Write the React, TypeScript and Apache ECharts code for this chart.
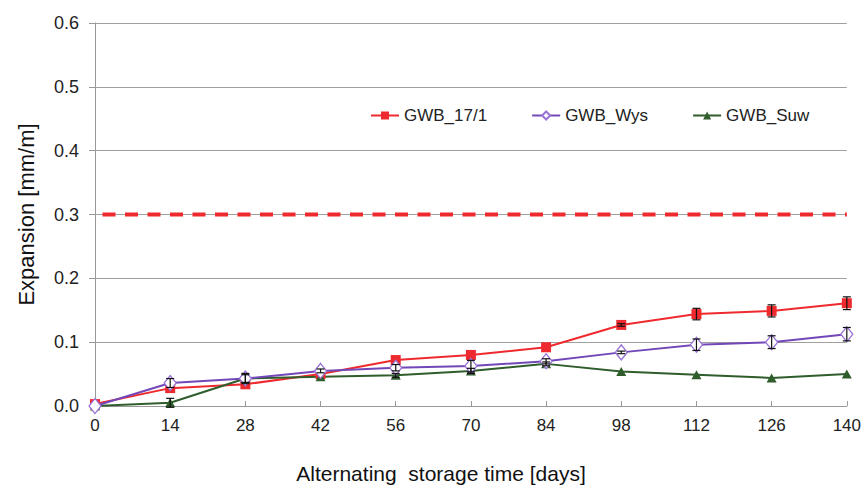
import React, { useEffect, useRef } from "react";
import * as echarts from "echarts";

const days = [0, 14, 28, 42, 56, 70, 84, 98, 112, 126, 140];
const gwb171 = [0.003, 0.028, 0.034, 0.05, 0.072, 0.08, 0.092, 0.127, 0.144, 0.149, 0.161];
const gwbWys = [0.0, 0.036, 0.043, 0.055, 0.06, 0.0625, 0.07, 0.084, 0.096, 0.1, 0.1125];
const gwbSuw = [0.0, 0.005, 0.043, 0.046, 0.048, 0.055, 0.066, 0.054, 0.049, 0.044, 0.05];
const err171 = [0, 0, 0, 0, 0, 0, 0, 0.002, 0.009, 0.0095, 0.01];
const errWys = [0, 0.007, 0.008, 0.003, 0.005, 0.009, 0.004, 0.002, 0.009, 0.01, 0.0105];
const errSuw = [0, 0.007, 0.006, 0, 0.003, 0.004, 0.003, 0, 0, 0, 0];
const limitX = [0, 140];
const limitValue = 0.3;
const yTicks = [0, 0.1, 0.2, 0.3, 0.4, 0.5, 0.6];
const xTitle = "Alternating  storage time [days]";
const yTitle = "Expansion [mm/m]";

const FONT = "'Liberation Sans', Arial, sans-serif";

function errData(vals: number[], errs: number[]) {
  return days.map((d, i) => [d, vals[i], errs[i]]);
}

function renderErr(params: any, api: any) {
  const x = api.value(0);
  const y = api.value(1);
  const e = api.value(2);
  if (!e) return null;
  const top = api.coord([x, y + e]);
  const bot = api.coord([x, y - e]);
  const hw = 4;
  const style = { stroke: "#111", lineWidth: 1.2 };
  return {
    type: "group",
    children: [
      { type: "line", shape: { x1: top[0], y1: top[1], x2: bot[0], y2: bot[1] }, style },
      { type: "line", shape: { x1: top[0] - hw, y1: top[1], x2: top[0] + hw, y2: top[1] }, style },
      { type: "line", shape: { x1: bot[0] - hw, y1: bot[1], x2: bot[0] + hw, y2: bot[1] }, style },
    ],
  };
}

export default function App() {
  const ref = useRef<HTMLDivElement>(null);
  useEffect(() => {
    if (!ref.current) return;
    const chart = echarts.init(ref.current, null, { renderer: "svg" });
    const pairs = (vals: number[]) => days.map((d, i) => [d, vals[i]]);
    chart.setOption({
      animation: false,
      backgroundColor: "#ffffff",
      textStyle: { fontFamily: FONT },
      grid: { left: 95, right: 17, top: 23, bottom: 85, containLabel: false },
      graphic: [
        {
          type: "text",
          x: 441,
          y: 463,
          style: {
            text: xTitle,
            fontFamily: FONT,
            fontSize: 21,
            fill: "#111",
            align: "center",
            verticalAlign: "top",
          },
        },
      ],
      legend: {
        data: ["GWB_17/1", "GWB_Wys", "GWB_Suw"],
        left: 365,
        top: 102,
        itemWidth: 28,
        itemHeight: 10,
        itemGap: 44,
        textStyle: { fontFamily: FONT, fontSize: 17, color: "#222" },
      },
      xAxis: {
        type: "value",
        min: 0,
        max: 140,
        interval: 14,
        axisLine: { show: true, lineStyle: { color: "#999", width: 1 } },
        axisTick: { show: true, inside: true, length: 5, lineStyle: { color: "#999" } },
        axisLabel: { fontFamily: FONT, fontSize: 17, color: "#222", margin: 11 },
        splitLine: { show: false },
      },
      yAxis: {
        type: "value",
        min: yTicks[0],
        max: yTicks[yTicks.length - 1],
        interval: 0.1,
        name: yTitle,
        nameLocation: "middle",
        nameGap: 58,
        nameTextStyle: { fontFamily: FONT, fontSize: 22, color: "#111" },
        axisLine: { show: true, lineStyle: { color: "#999", width: 1 } },
        axisTick: { show: true, inside: false, length: 6, lineStyle: { color: "#999" } },
        axisLabel: {
          fontFamily: FONT,
          fontSize: 18,
          color: "#222",
          margin: 16,
          formatter: (v: number) => v.toFixed(1),
        },
        splitLine: { show: true, lineStyle: { color: "#a0a0a0", width: 1 } },
      },
      series: [
        {
          name: "limit",
          type: "line",
          data: limitX.map((x) => [x, limitValue]),
          symbol: "none",
          lineStyle: { color: "#ee2a2e", width: 4, type: [13, 9.5], dashOffset: 14.8 },
          z: 2,
          silent: true,
        },
        {
          name: "GWB_17/1",
          type: "line",
          data: pairs(gwb171),
          symbol: "rect",
          symbolSize: 10,
          itemStyle: { color: "#ee2a2e" },
          lineStyle: { color: "#ee2a2e", width: 2 },
          z: 3,
        },
        {
          name: "GWB_Wys",
          type: "line",
          data: pairs(gwbWys),
          symbol: "diamond",
          symbolSize: [12, 15],
          itemStyle: { color: "#ffffff", borderColor: "#9a72d6", borderWidth: 1.3 },
          lineStyle: { color: "#7248b8", width: 2 },
          z: 4,
        },
        {
          name: "GWB_Suw",
          type: "line",
          data: pairs(gwbSuw),
          symbol: "triangle",
          symbolSize: [10, 9],
          itemStyle: { color: "#2f5d2b" },
          lineStyle: { color: "#2f5d2b", width: 2 },
          z: 3,
        },
        {
          name: "err171",
          type: "custom",
          renderItem: renderErr,
          data: errData(gwb171, err171),
          encode: { x: 0, y: 1 },
          z: 5,
          silent: true,
        },
        {
          name: "errWys",
          type: "custom",
          renderItem: renderErr,
          data: errData(gwbWys, errWys),
          encode: { x: 0, y: 1 },
          z: 5,
          silent: true,
        },
        {
          name: "errSuw",
          type: "custom",
          renderItem: renderErr,
          data: errData(gwbSuw, errSuw),
          encode: { x: 0, y: 1 },
          z: 5,
          silent: true,
        },
      ],
    });
    return () => chart.dispose();
  }, []);
  return (
    <div
      ref={ref}
      style={{ position: "fixed", left: 0, top: 0, width: 864, height: 491, background: "#fff" }}
    />
  );
}
